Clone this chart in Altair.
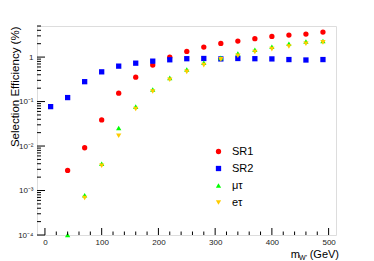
import altair as alt
import pandas as pd

# ---- data ----
mass = [10, 40, 70, 100, 130, 160, 190, 220, 250, 280, 310, 340, 370, 400, 430, 460, 490]
sr1 = [None, 0.00283, 0.00916, 0.0386, 0.154, 0.354, 0.66, 1.0, 1.34, 1.68, 2.03, 2.29, 2.59, 2.92, 3.13, 3.30, 3.66]
sr2 = [0.077, 0.123, 0.28, 0.466, 0.626, 0.73, 0.81, 0.87, 0.92, 0.93, 0.91, 0.93, 0.92, 0.91, 0.88, 0.86, 0.88]
mutau = [None, 0.0001, 0.000785, 0.0040, 0.0255, 0.077, 0.186, 0.341, 0.525, 0.744, 0.96, 1.20, 1.46, 1.71, 2.00, 2.25, 2.29]
etau = [None, None, 0.00068, 0.0036, 0.017, 0.068, 0.168, 0.31, 0.466, 0.66, 0.89, 1.07, 1.30, 1.51, 1.73, 2.00, 2.14]

series_names = ["SR1", "SR2", "μτ", "eτ"]
series_colors = ["#ff0000", "#0000ff", "#00ff00", "#ffcc00"]
series_shapes = ["circle", "square", "triangle-up", "triangle-down"]

y_major = [1e-4, 1e-3, 1e-2, 1e-1, 1]
y_minor = [m * 10.0 ** k for k in range(-4, 0) for m in range(2, 10)] + [2, 3, 4, 5]
x_major = [0, 100, 200, 300, 400, 500]
x_minor = [v for v in range(0, 501, 20) if v % 100 != 0]

rows = []
for name, vals in zip(series_names, [sr1, sr2, mutau, etau]):
    for m, v in zip(mass, vals):
        if v is not None:
            rows.append({"mass": m, "eff": v, "series": name})
df = pd.DataFrame(rows)

W, H = 299, 209
FONT = "Liberation Sans"

xscale = alt.Scale(domain=[-14, 513], nice=False, zero=False)
yscale = alt.Scale(type="log", domain=[1e-4, 5], nice=False)

label_expr = (
    "datum.value >= 0.99 ? '1' : datum.value >= 0.099 ? '10⁻¹' : "
    "datum.value >= 0.0099 ? '10⁻²' : datum.value >= 0.00099 ? '10⁻³' : '10⁻⁴'"
)

points = alt.Chart(df).mark_point(filled=True, size=28, opacity=1).encode(
    x=alt.X("mass:Q", scale=xscale,
            axis=alt.Axis(values=x_major, title=None, ticks=False, tickSize=0, domain=False,
                          grid=False, labelFontSize=8, labelFont=FONT, labelColor="#222",
                          labelPadding=3)),
    y=alt.Y("eff:Q", scale=yscale,
            axis=alt.Axis(values=y_major, title="Selection Efficiency (%)", ticks=False, tickSize=0,
                          domain=False, grid=False, labelFontSize=8, labelFont=FONT,
                          labelColor="#222", labelPadding=4, labelExpr=label_expr,
                          titleFont=FONT, titleFontSize=11.5, titleFontWeight="normal",
                          titleColor="#000", titleAngle=-90, titleAlign="right",
                          titleBaseline="bottom", titleX=-17, titleY=0, titleAnchor="end")),
    color=alt.Color("series:N", scale=alt.Scale(domain=series_names, range=series_colors),
                    legend=alt.Legend(orient="none", legendX=176, legendY=120, title=None,
                                      labelFont=FONT, labelFontSize=11, labelColor="#000",
                                      symbolSize=28, rowPadding=5, labelOffset=8,
                                      padding=0, symbolStrokeWidth=0)),
    shape=alt.Shape("series:N", scale=alt.Scale(domain=series_names, range=series_shapes),
                    legend=None),
)

ymaj_df = pd.DataFrame({"v": y_major})
ymin_df = pd.DataFrame({"v": y_minor})
xmaj_df = pd.DataFrame({"v": x_major})
xmin_df = pd.DataFrame({"v": x_minor})

def yticks(d, length):
    return alt.Chart(d).mark_rule(color="#000", strokeWidth=1).encode(
        y=alt.Y("v:Q", scale=yscale),
        x=alt.value(0), x2=alt.value(length))

def xticks(d, length):
    return alt.Chart(d).mark_rule(color="#000", strokeWidth=1).encode(
        x=alt.X("v:Q", scale=xscale),
        y=alt.value(H), y2=alt.value(H - length))

title_df = pd.DataFrame({"t": ["x"]})
xt_main = alt.Chart(title_df).mark_text(text=" (GeV)", align="right", baseline="alphabetic",
                                        font=FONT, fontSize=11, color="#000").encode(
    x=alt.value(W + 3), y=alt.value(H + 23))
xt_sub = alt.Chart(title_df).mark_text(text="W'", align="right", baseline="alphabetic",
                                       font=FONT, fontSize=7, color="#000").encode(
    x=alt.value(W + 3 - 32), y=alt.value(H + 25))
xt_m = alt.Chart(title_df).mark_text(text="m", align="right", baseline="alphabetic",
                                     font=FONT, fontSize=11, color="#000").encode(
    x=alt.value(W + 3 - 39), y=alt.value(H + 23))

chart = alt.layer(
    points, yticks(ymaj_df, 8), yticks(ymin_df, 4), xticks(xmaj_df, 7), xticks(xmin_df, 3.5),
    xt_main, xt_sub, xt_m,
).resolve_scale(color="independent", shape="independent").properties(
    width=W, height=H,
    autosize=alt.AutoSizeParams(type="none"),
    padding={"left": 29, "top": 18, "right": 30, "bottom": 26},
).configure_view(stroke="#000", strokeWidth=1).configure(background="white")

chart.save("out.html", embed_options={"renderer": "svg", "actions": False})
